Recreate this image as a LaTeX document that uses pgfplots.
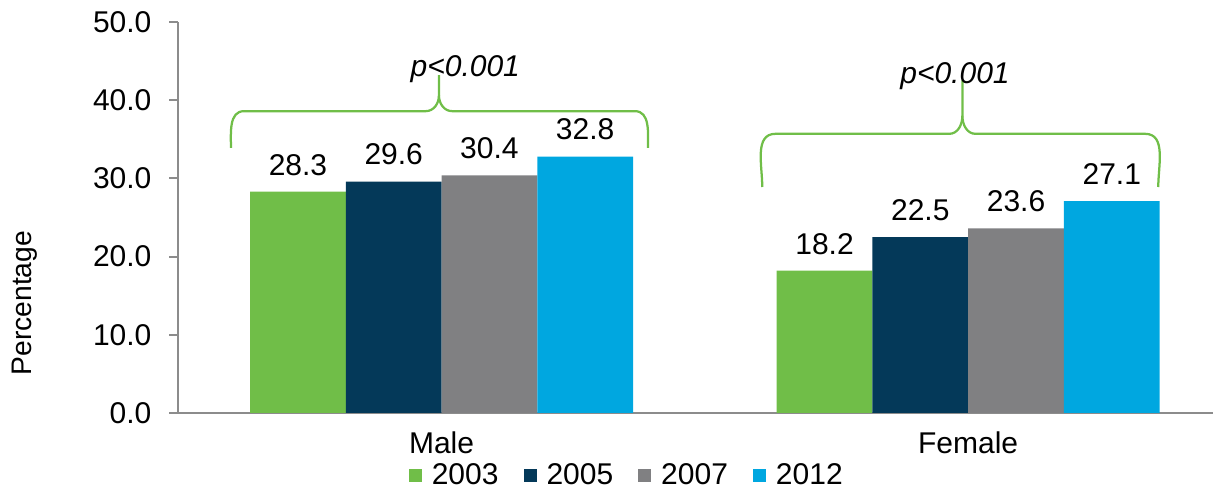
\documentclass[border=0pt]{standalone}
\usepackage{pgfplots}
\pgfplotsset{compat=1.18}
\usepackage{fontspec}
\setmainfont{Liberation Sans}
\definecolor{cGreen}{RGB}{112,190,72}
\definecolor{cNavy}{RGB}{4,57,89}
\definecolor{cGray}{RGB}{128,128,130}
\definecolor{cCyan}{RGB}{0,167,224}
\definecolor{axgray}{RGB}{140,140,140}
\begin{document}
\begin{tikzpicture}
\begin{axis}[
  scale only axis, width=414pt, height=156.4pt,
  ybar=0pt, bar width=0.1818,
  xmin=-0.5005, xmax=1.465, ymin=0, ymax=50,
  xtick={0,1}, xticklabels={Male,Female},
  ytick={0,10,...,50},
  yticklabel style={/pgf/number format/.cd,fixed,fixed zerofill,precision=1, /tikz/.cd, xshift=-3.5pt},
  /pgf/number format/assume math mode=true,
  axis x line*=bottom, axis y line*=left,
  axis line style={axgray, line width=0.8pt},
  x axis line style={-}, y axis line style={-},
  major x tick style={draw=none},
  major y tick style={axgray, line width=0.8pt},
  tick align=outside, major tick length=3.6pt,
  font=\fontsize{12}{14}\selectfont,
  xticklabel style={yshift=-2.6pt, inner sep=1pt},
  ylabel={Percentage},
  ylabel style={at={(axis description cs:-0.148,0.281)}, anchor=center, font=\fontsize{11.3}{13}\selectfont},
  nodes near coords,
  nodes near coords style={/pgf/number format/.cd,fixed,fixed zerofill,precision=1, /tikz/.cd, font=\fontsize{12}{14}\selectfont, yshift=3pt},
  clip=false,
  legend style={at={(0.435,0)}, anchor=north, yshift=-18pt, draw=none, fill=none, legend columns=4,
    inner sep=0pt, /tikz/every odd column/.append style={column sep=2pt},
    /tikz/every even column/.append style={column sep=8pt}, font=\fontsize{12}{14}\selectfont},
  legend image code/.code={\fill[#1] (0pt,-2.6pt) rectangle (5.2pt,2.6pt);},
]
\addplot[fill=cGreen, draw=none] coordinates {(0,28.3) (1,18.2)};
\addplot[fill=cNavy, draw=none] coordinates {(0,29.6) (1,22.5)};
\addplot[fill=cGray, draw=none] coordinates {(0,30.4) (1,23.6)};
\addplot[fill=cCyan, draw=none] coordinates {(0,32.8) (1,27.1)};
\legend{2003,2005,2007,2012}
% significance braces
\draw[cGreen, line width=0.9pt] (axis cs:-0.400,33.9) to[out=90,in=180] (axis cs:-0.375,38.6) -- (axis cs:-0.030,38.6) to[out=0,in=-90] (axis cs:-0.005,40.6) -- (axis cs:-0.005,43.2);
\draw[cGreen, line width=0.9pt] (axis cs:0.392,33.9) to[out=90,in=0] (axis cs:0.367,38.6) -- (axis cs:0.020,38.6) to[out=180,in=-90] (axis cs:-0.005,40.6);
\draw[cGreen, line width=0.9pt] (axis cs:0.609,28.9) to[out=90,in=180] (axis cs:0.634,35.7) -- (axis cs:0.964,35.7) to[out=0,in=-90] (axis cs:0.989,38.0) -- (axis cs:0.989,42.6);
\draw[cGreen, line width=0.9pt] (axis cs:1.361,28.9) to[out=90,in=0] (axis cs:1.336,35.7) -- (axis cs:1.014,35.7) to[out=180,in=-90] (axis cs:0.989,38.0);
\node[font=\fontsize{12}{14}\selectfont\itshape] at (axis cs:0.045,44.0) {p<0.001};
\node[font=\fontsize{12}{14}\selectfont\itshape] at (axis cs:0.975,43.1) {p<0.001};
% picture frame
\path (axis description cs:-0.172,-0.189) (axis description cs:1.0077,1.0563);
\end{axis}
\end{tikzpicture}
\end{document}
